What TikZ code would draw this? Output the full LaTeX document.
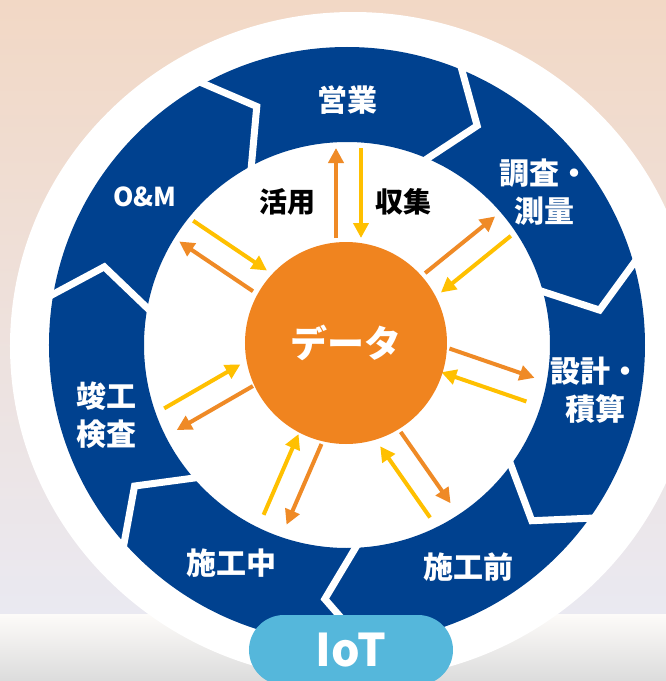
\documentclass[tikz,border=0pt]{standalone}
\usepackage{fontspec}
\newfontfamily\jpfont{Noto Sans CJK JP}
\usetikzlibrary{arrows.meta}
\definecolor{peach}{HTML}{F2D8C5}
\definecolor{lavender}{HTML}{EAE9F1}
\definecolor{bandtop}{HTML}{FDFBF9}
\definecolor{bandbot}{HTML}{DCDCDC}
\definecolor{ringblue}{HTML}{00418F}
\definecolor{dataorange}{HTML}{F0841F}
\definecolor{usecol}{HTML}{EF8A26}
\definecolor{collectcol}{HTML}{FFC000}
\definecolor{iotblue}{HTML}{55B7DB}
\begin{document}
\begin{tikzpicture}[x=1pt,y=1pt,
    seglabel/.style={text=white,align=center,font=\jpfont\bfseries\fontsize{30}{38}\selectfont},
    flowlabel/.style={text=black,font=\jpfont\bfseries\fontsize{28}{34}\selectfont},
    gapline/.style={white,line width=7pt,line join=miter},
    usearrow/.style={usecol,line width=4pt,-{Triangle[length=15pt,width=15pt]}},
    collectarrow/.style={collectcol,line width=4pt,-{Triangle[length=15pt,width=15pt]}}]
	    \useasboundingbox (-347,-336) rectangle (319,345);

	    % background
	    \shade[top color=peach,bottom color=lavender] (-347,-269) rectangle (319,345);
	    \shade[top color=bandtop,bottom color=bandbot] (-347,-336) rectangle (319,-269);
	    \fill[white] (6,-1) ellipse (343 and 334);

	    % ring of seven steps
	    \fill[ringblue,even odd rule] (0,0) circle (298) (0,0) circle (203);
	    \foreach \k in {0,...,6}{
	      \pgfmathsetmacro\sa{69.3-51.43*\k}
	      \draw[gapline] (\sa:312) -- (\sa-10:255) -- (\sa:190);
	    }

	    \node[seglabel] (eigyo) at (1,245) {営業};
	    \node[seglabel] (chosa) at (198,153) {調査・\\測量};
	    \node[seglabel] (sekkei) at (249,-45) {設計・\\積算};
	    \node[seglabel] (sekomae) at (122,-222) {施工前};
	    \node[seglabel] (sekochu) at (-115,-218) {施工中};
	    \node[seglabel] (shunko) at (-240,-70) {竣工\\検査};
	    \node[seglabel,font=\jpfont\bfseries\fontsize{26}{30}\selectfont] (om) at (-202,148) {O\&M};

	    \node[flowlabel] (katsuyo) at (-59,143) {活用};
	    \node[flowlabel] (shushu) at (57,143) {収集};

	    % arrows to and from the data
	    \foreach \m/\c/\ra/\rb in {90/-1.5/107/197, 39/-5.8/106/196, -19/17.5/98/188,
	        -55/-18.4/102/189, -113.4/3.4/101/189, -150/-24/102/190, 146/-4.5/108/197}{
	      \begin{scope}[rotate=\m]
	        \coordinate (ua) at (\ra,{\c+12.5});
	        \coordinate (ub) at (\rb,{\c+12.5});
	        \coordinate (ca) at (\rb,{\c-12.5});
	        \coordinate (cb) at (\ra,{\c-12.5});
	        \draw[usearrow] (ua) -- (ub);
	        \draw[collectarrow] (ca) -- (cb);
	      \end{scope}
	    }

	    \node[circle,fill=dataorange,minimum size=202pt,inner sep=0pt,text=white,
	      font=\jpfont\bfseries\fontsize{37}{40}\selectfont] (data) at (-1,2) {データ};

	    \node[fill=iotblue,rounded corners=35pt,minimum width=204pt,minimum height=70pt,
	      text=white,font=\jpfont\bfseries\fontsize{45}{50}\selectfont] (iot) at (4,-305) {IoT};
\end{tikzpicture}
\end{document}
